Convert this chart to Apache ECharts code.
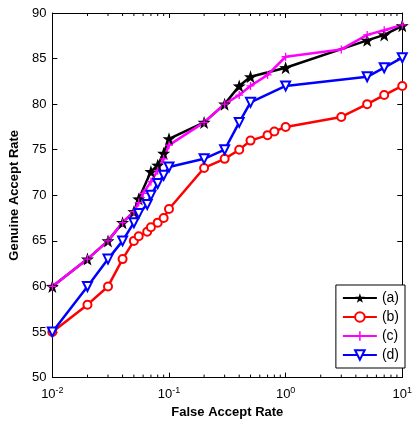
<!DOCTYPE html>
<html>
<head>
<meta charset="utf-8">
<script src="https://cdn.jsdelivr.net/npm/echarts@6/dist/echarts.min.js"></script>
<style>
  html, body { margin: 0; padding: 0; background: #fff; }
  #chart { width: 415px; height: 424px; }
</style>
</head>
<body>
<div id="chart"></div>
<script>
// False accept rate (x) / genuine accept rate (y) for each method
var farA = [0.01, 0.02, 0.03, 0.04, 0.05, 0.055, 0.07, 0.08, 0.09, 0.1, 0.2, 0.3, 0.4, 0.5, 1, 5, 7, 10];
var garA = [60, 63, 65, 67, 68.2, 69.6, 72.6, 73.3, 74.6, 76.2, 78, 80, 82, 83, 84, 87, 87.6, 88.6];

var farB = [0.01, 0.02, 0.03, 0.04, 0.05, 0.055, 0.065, 0.07, 0.08, 0.09, 0.1, 0.2, 0.3, 0.4, 0.5, 0.7, 0.8, 1, 3, 5, 7, 10];
var garB = [55, 58, 60, 63, 65, 65.5, 66, 66.5, 67, 67.5, 68.5, 73, 74, 75, 76, 76.6, 77, 77.5, 78.6, 80, 81, 82];

var farC = [0.01, 0.02, 0.03, 0.04, 0.05, 0.055, 0.06, 0.07, 0.08, 0.09, 0.1, 0.2, 0.3, 0.4, 0.5, 0.7, 1, 3, 5, 7, 10];
var garC = [60, 63, 65, 67, 68.2, 69.2, 70.2, 71.5, 72.7, 74, 75.5, 78, 80, 81, 82, 83.2, 85.2, 86, 87.6, 88.1, 88.7];

var farD = [0.01, 0.02, 0.03, 0.04, 0.05, 0.055, 0.065, 0.07, 0.08, 0.09, 0.1, 0.2, 0.3, 0.4, 0.5, 1, 5, 7, 10];
var garD = [55, 60, 63, 65, 67, 68, 69, 70, 71.3, 72.2, 73.1, 74, 75, 78, 80.2, 82, 83, 84, 85.1];

var names = ['(a)', '(b)', '(c)', '(d)'];
var minorX = [0.02, 0.03, 0.04, 0.05, 0.06, 0.07, 0.08, 0.09,
              0.2, 0.3, 0.4, 0.5, 0.6, 0.7, 0.8, 0.9,
              2, 3, 4, 5, 6, 7, 8, 9];

function pairs(xs, ys) {
  return xs.map(function (x, i) { return [x, ys[i]]; });
}

var star = 'path://M0,-10 L2.35,-3.24 9.51,-3.09 3.8,1.24 5.88,8.09 0,4 -5.88,8.09 -3.8,1.24 -9.51,-3.09 -2.35,-3.24 Z';
var plus = 'path://M-0.8,-5 H0.8 V-0.8 H5 V0.8 H0.8 V5 H-0.8 V0.8 H-5 V-0.8 H-0.8 Z';
var font = 'Liberation Sans';

var chart = echarts.init(document.getElementById('chart'));

var option = {
  animation: false,
  backgroundColor: '#fff',
  grid: { left: 47, top: 13, width: 359, height: 367 },
  legend: {
    data: names,
    orient: 'vertical',
    right: 10,
    top: 285,
    backgroundColor: '#fff',
    borderColor: '#000',
    borderWidth: 1,
    borderRadius: 0,
    padding: [6, 6, 6, 6],
    itemGap: 5,
    itemWidth: 34,
    itemHeight: 12,
    textStyle: { fontFamily: font, fontSize: 14, color: '#000' }
  },
  xAxis: [{
    type: 'log',
    logBase: 10,
    min: 0.01,
    max: 10,
    name: 'False Accept Rate',
    nameLocation: 'middle',
    nameGap: 26,
    nameTextStyle: { fontFamily: font, fontSize: 13, fontWeight: 'bold', color: '#000' },
    axisLine: { lineStyle: { color: '#000', width: 1 } },
    axisTick: { inside: true, length: 5, lineStyle: { color: '#000' } },
    splitLine: { show: false },
    axisLabel: {
      margin: 8,
      color: '#000',
      formatter: function (v) {
        return '{b|10}{s|' + Math.round(Math.log10(v)) + '}';
      },
      rich: {
        b: { fontFamily: font, fontSize: 13, color: '#000' },
        s: { fontFamily: font, fontSize: 9, color: '#000', padding: [0, 0, 9, 0] }
      }
    }
  }, {
    type: 'log',
    logBase: 10,
    min: 0.01,
    max: 10,
    position: 'top',
    axisLine: { lineStyle: { color: '#000', width: 1 } },
    axisTick: { inside: true, length: 5, lineStyle: { color: '#000' } },
    axisLabel: { show: false },
    splitLine: { show: false }
  }],
  yAxis: [{
    type: 'value',
    min: 50,
    max: 90,
    interval: 5,
    name: 'Genuine Accept Rate',
    nameLocation: 'middle',
    nameGap: 28,
    nameTextStyle: { fontFamily: font, fontSize: 13, fontWeight: 'bold', color: '#000' },
    axisLine: { show: true, lineStyle: { color: '#000', width: 1 } },
    axisTick: { show: true, inside: true, length: 5, lineStyle: { color: '#000' } },
    splitLine: { show: false },
    axisLabel: { fontFamily: font, fontSize: 13, color: '#000', margin: 6 }
  }, {
    type: 'value',
    min: 50,
    max: 90,
    interval: 5,
    position: 'right',
    axisLine: { show: true, lineStyle: { color: '#000', width: 1 } },
    axisTick: { show: true, inside: true, length: 5, lineStyle: { color: '#000' } },
    splitLine: { show: false },
    axisLabel: { show: false }
  }],
  series: [
    {
      name: 'minorTicks',
      type: 'custom',
      silent: true,
      z: 1,
      data: minorX.map(function (x) { return [x, 50]; }),
      renderItem: function (params, api) {
        var x = api.value(0);
        var b = api.coord([x, 50]);
        var t = api.coord([x, 90]);
        var st = { stroke: '#000', lineWidth: 1 };
        return {
          type: 'group',
          children: [
            { type: 'line', shape: { x1: b[0], y1: b[1], x2: b[0], y2: b[1] - 3 }, style: st },
            { type: 'line', shape: { x1: t[0], y1: t[1], x2: t[0], y2: t[1] + 3 }, style: st }
          ]
        };
      }
    },
    {
      name: '(a)', type: 'line', data: pairs(farA, garA),
      symbol: star, symbolSize: 13,
      lineStyle: { color: '#000', width: 2.5 },
      itemStyle: { color: '#000' }
    },
    {
      name: '(b)', type: 'line', data: pairs(farB, garB),
      symbol: 'emptyCircle', symbolSize: 8,
      lineStyle: { color: '#ff0000', width: 2.5 },
      itemStyle: { color: '#ff0000', borderWidth: 2 }
    },
    {
      name: '(c)', type: 'line', data: pairs(farC, garC),
      symbol: plus, symbolSize: 8,
      lineStyle: { color: '#ff00ff', width: 2.5 },
      itemStyle: { color: '#ff00ff' }
    },
    {
      name: '(d)', type: 'line', data: pairs(farD, garD),
      symbol: 'emptyTriangle', symbolRotate: 180, symbolSize: 9,
      lineStyle: { color: '#0000ff', width: 2.5 },
      itemStyle: { color: '#0000ff', borderWidth: 2 }
    }
  ]
};

chart.setOption(option);
</script>
</body>
</html>
